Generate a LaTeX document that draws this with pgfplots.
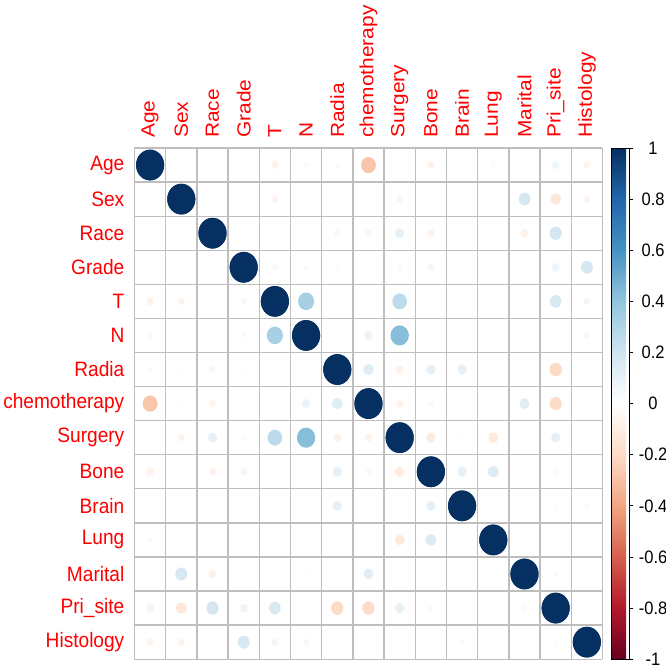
\documentclass[border=0pt]{standalone}
\usepackage{fontspec}
\setmainfont{Liberation Sans}
\usepackage{pgfplots}
\usepackage{pgfplotstable}
\pgfplotsset{compat=1.18}
\definecolor{gridgray}{HTML}{BEBEBE}
\pgfdeclareplotmark{ell}{\pgfpathellipse{\pgfpointorigin}{\pgfqpoint{\pgfplotmarksize}{0pt}}{\pgfqpoint{0pt}{1.093\pgfplotmarksize}}\pgfusepathqfill}
% upper triangle of the correlation matrix (row, col, r); variables 1..15
\pgfplotstableread{
row col r
1 1 1
2 2 1
3 3 1
4 4 1
5 5 1
6 6 1
7 7 1
8 8 1
9 9 1
10 10 1
11 11 1
12 12 1
13 13 1
14 14 1
15 15 1
1 5 -0.07
1 6 -0.04
1 7 -0.04
1 8 -0.28
1 9 0.01
1 10 -0.07
1 11 -0.01
1 12 -0.03
1 13 0.01
1 14 0.07
1 15 -0.06
2 3 -0.01
2 4 -0.01
2 5 -0.06
2 6 0.01
2 7 0.02
2 8 0.02
2 9 -0.06
2 13 0.18
2 14 -0.14
2 15 -0.06
3 7 -0.05
3 8 -0.06
3 9 0.11
3 10 -0.07
3 11 -0.01
3 13 -0.08
3 14 0.19
4 5 0.05
4 6 0.03
4 7 -0.02
4 9 -0.04
4 10 0.06
4 11 -0.01
4 12 -0.01
4 13 -0.01
4 14 0.08
4 15 0.18
5 6 0.33
5 8 0.01
5 9 0.27
5 11 -0.01
5 14 0.17
5 15 0.06
6 8 0.09
6 9 0.43
6 13 0.02
6 15 -0.05
7 8 0.14
7 9 -0.08
7 10 0.11
7 11 0.11
7 14 -0.20
7 15 0.01
8 9 -0.07
8 10 0.04
8 11 -0.01
8 13 0.13
8 14 -0.19
8 15 -0.01
9 10 -0.11
9 11 -0.02
9 12 -0.12
9 13 0.01
9 14 0.11
10 11 0.11
10 12 0.15
10 14 -0.03
10 15 0.01
11 14 -0.02
11 15 -0.03
12 13 -0.01
12 14 -0.01
13 14 -0.03
14 15 0.02
}\corrtab
\begin{document}
\begin{tikzpicture}
\begin{axis}[
  x=31.2pt, y=34.08pt,
  xmin=0.5, xmax=15.5, ymin=0.5, ymax=15.5,
  clip=false,
  axis line style={draw=none},
  xtick={1,...,15},
  xticklabels={Age,Sex,Race,Grade,T,N,Radia,chemotherapy,Surgery,Bone,Brain,Lung,Marital,Pri\_site,Histology},
  ytick={1,...,15},
  yticklabels={Histology,Pri\_site,Marital,Lung,Brain,Bone,Surgery,chemotherapy,Radia,N,T,Grade,Race,Sex,Age},
  xticklabel pos=upper,
  major tick length=0pt,
  minor xtick={0.5,1.5,...,15.5},
  minor ytick={0.5,1.5,...,15.5},
  minor tick length=0pt,
  grid=minor,
  minor grid style={draw=gridgray, line width=1.3pt},
  tick label style={font=\fontsize{19.1}{23}\selectfont, text=red, inner sep=0pt},
  xticklabel style={yscale=1.093, rotate=90, anchor=west},
  yticklabel style={yscale=1.093, anchor=east},
  xticklabel shift=10pt, yticklabel shift=10pt,
  colormap={rdbu}{rgb255=(103,0,31) rgb255=(178,24,43) rgb255=(214,96,77) rgb255=(244,165,130) rgb255=(253,219,199) rgb255=(255,255,255) rgb255=(209,229,240) rgb255=(146,197,222) rgb255=(67,147,195) rgb255=(33,102,172) rgb255=(5,48,97)},
  point meta min=-1, point meta max=1,
  colorbar,
  colorbar shift/.style={},
  colorbar style={
    at={(parent axis.north east)}, anchor=north west, xshift=9.3pt,
    width=17.3pt, height=511.2pt,
    ytick={-1,-0.8,-0.6,-0.4,-0.2,0,0.2,0.4,0.6,0.8,1},
    yticklabels={-1,-0.8,-0.6,-0.4,-0.2,0,0.2,0.4,0.6,0.8,1},
    yticklabel style={font=\fontsize{16.5}{20}\selectfont, text=black, yscale=1.093, anchor=center, xshift=20pt},
    axis line style={draw=black, line width=0.8pt},
    tick style={draw=black, line width=0.8pt},
    major tick length=4pt,
    tick align=outside,
    ytick pos=right,
  },
  scatter/use mapped color={draw=mapped color, fill=mapped color},
]
\addplot[scatter, only marks, mark=ell, point meta=\thisrow{r},
  visualization depends on={\thisrow{r} \as \rr},
  scatter/@pre marker code/.append style={/tikz/mark size={14.04*sqrt(abs(\rr))}}]
  table[x=col, y expr={16-\thisrow{row}}] {\corrtab};
\addplot[scatter, only marks, mark=ell, point meta=\thisrow{r},
  visualization depends on={\thisrow{r} \as \rr},
  scatter/@pre marker code/.append style={/tikz/mark size={14.04*sqrt(abs(\rr))}}]
  table[x=row, y expr={16-\thisrow{col}}] {\corrtab};
\coordinate (bbsw) at (axis cs:-3.811,0.212);
\coordinate (bbne) at (axis cs:17.535,19.843);
\end{axis}
\pgfresetboundingbox
\useasboundingbox (bbsw) rectangle (bbne);
\end{tikzpicture}
\end{document}
